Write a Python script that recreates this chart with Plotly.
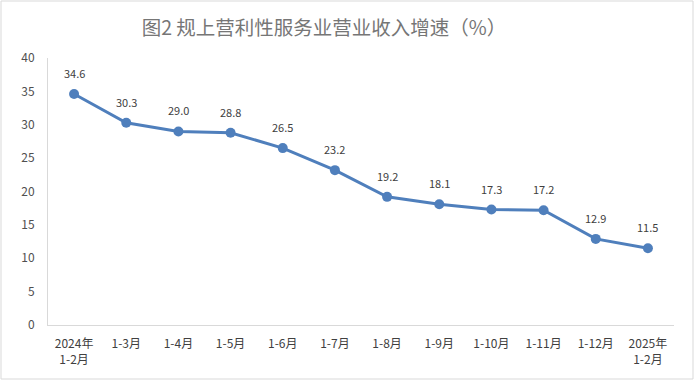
import plotly.graph_objects as go

categories = ["2024年<br>1-2月", "1-3月", "1-4月", "1-5月", "1-6月", "1-7月", "1-8月",
              "1-9月", "1-10月", "1-11月", "1-12月", "2025年<br>1-2月"]
values = [34.6, 30.3, 29.0, 28.8, 26.5, 23.2, 19.2, 18.1, 17.3, 17.2, 12.9, 11.5]
labels = [f"{v:.1f}" for v in values]
y_ticks = [0, 5, 10, 15, 20, 25, 30, 35, 40]

font_family = "Noto Sans CJK SC, Noto Sans, sans-serif"
xs = list(range(len(categories)))

fig = go.Figure()
fig.add_trace(go.Scatter(
    x=xs, y=values,
    mode="lines+markers",
    line=dict(color="#4f7fbc", width=3),
    marker=dict(color="#4f7fbc", size=10),
    cliponaxis=False,
    hoverinfo="skip",
))

annotations = [dict(x=x, y=v, text=t, showarrow=False, xref="x", yref="y",
                    yshift=21, font=dict(size=11, color="#404040", family=font_family))
               for x, v, t in zip(xs, values, labels)]

W, H = 694, 380
ml, mr, mt, mb = 48, 20, 58, 55
pw, ph = W - ml - mr, H - mt - mb

fig.update_layout(
    width=W, height=H,
    margin=dict(l=ml, r=mr, t=mt, b=mb),
    paper_bgcolor="white", plot_bgcolor="white",
    showlegend=False,
    font=dict(family=font_family, size=11, color="#404040"),
    title=dict(text="图2 规上营利性服务业营业收入增速（%）",
               x=324 / W, xanchor="center", xref="container",
               y=1 - 28 / H, yanchor="middle", yref="container",
               font=dict(size=19.5, color="#767676", family=font_family)),
    xaxis=dict(
        tickmode="array", tickvals=xs, ticktext=categories,
        range=[-0.5, len(categories) - 0.5],
        showgrid=False, zeroline=False,
        showline=True, linecolor="#d9d9d9", linewidth=1,
        ticks="", tickfont=dict(size=12, color="#404040"),
        ticklabelstandoff=8,
    ),
    yaxis=dict(
        range=[0, 40], tickmode="array", tickvals=y_ticks,
        showgrid=False, zeroline=False,
        showline=True, linecolor="#d9d9d9", linewidth=1,
        ticks="", tickfont=dict(size=12, color="#505050"),
        ticklabelstandoff=10,
    ),
    annotations=annotations,
    shapes=[dict(
        type="rect", xref="paper", yref="paper",
        x0=(1 - ml) / pw, x1=(W - 1 - ml) / pw,
        y0=(H - mb - (H - 1)) / ph, y1=(H - mb - 1) / ph,
        line=dict(color="#d9d9d9", width=1), fillcolor="rgba(0,0,0,0)",
        layer="below",
    )],
)

fig.write_html("out.html", config={"displayModeBar": False},
               post_script="document.body.style.margin='0';")
